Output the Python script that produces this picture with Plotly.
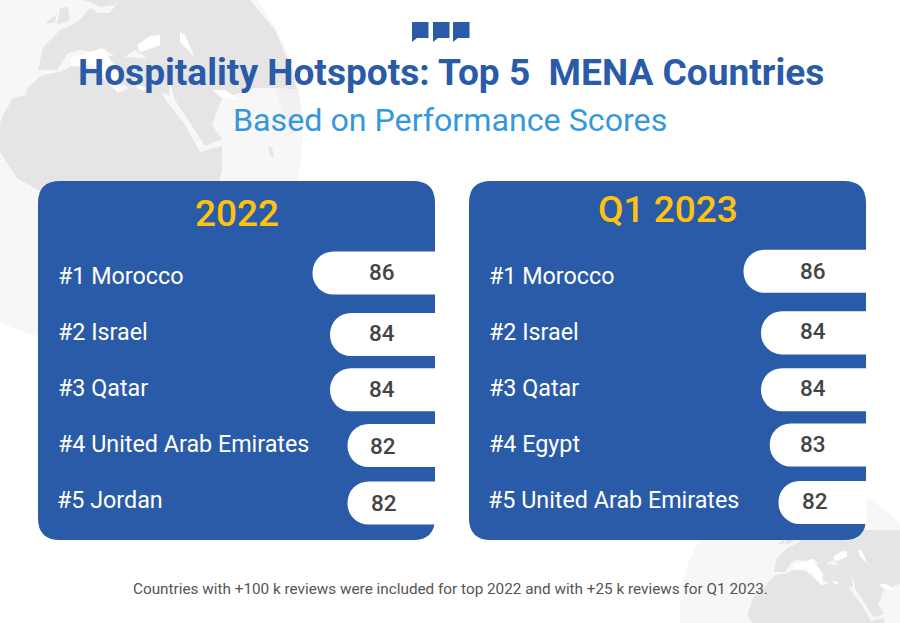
import plotly.express as px

def getDataSource():
    return{
        "period":["2022"]*5+["Q1 2023"]*5,
        "country":["#1 Morocco","#2 Israel","#3 Qatar","#4 United Arab Emirates","#5 Jordan",
                   "#1 Morocco","#2 Israel","#3 Qatar","#4 Egypt","#5 United Arab Emirates"],
        "score":[86,84,84,82,82,86,84,84,83,82],
        "row":[1,2.07,3.03,4,5,0.97,2.04,3.03,3.99,4.99]
    }

def paperX(x):
    return x/900

def paperY(y):
    return 1-y/623

def pathOf(points,x0=0,y0=0,scale=1):
    parts=[]
    for x,y in points:
        parts.append(str(round(paperX(x0+x*scale),5))+","+str(round(paperY(y0+y*scale),5)))
    return "M"+" L".join(parts)+" Z"

def addShape(fig,path,colour):
    fig.add_shape(type="path",path=path,xref="paper",yref="paper",fillcolor=colour,line_width=0,layer="below")

def addGlobe(fig,x0,y0,scale):
    cx=x0+92*scale
    cy=y0+132*scale
    r=211*scale
    fig.add_shape(type="circle",xref="paper",yref="paper",x0=paperX(cx-r),x1=paperX(cx+r),y0=paperY(cy+r),y1=paperY(cy-r),
                  fillcolor="#f7f7f7",line_width=0,layer="below")
    africa=[(-6,140),(3,115),(13,98),(25,95),(28,87),(42,75),(60,72),(72,66),(90,68),(105,80),(118,93),(135,85),(155,80),
            (167,102),(185,125),(200,152),(222,146),(222,170),(217,190),(38,190),(17,178),(0,152)]
    eurasia=[(117,0),(117,3),(110,13),(98,13),(90,8),(80,20),(72,25),(60,30),(43,47),(38,70),(57,70),(68,53),(80,50),(95,52),
             (103,48),(120,60),(135,50),(150,60),(165,65),(175,100),(205,146),(222,139),(212,125),(222,98),(232,95),(255,88),
             (278,88),(297,90),(292,70),(275,30),(250,0)]
    levant=[(100,55),(165,60),(170,95),(160,92),(135,90),(100,75)]
    north=[(82,0),(117,0),(115,5),(100,7),(92,3)]
    ireland=[(47,22),(57,14),(55,22),(47,24)]
    britain=[(60,8),(68,7),(70,20),(57,25)]
    india=[(275,88),(298,90),(303,125),(291,135),(282,110)]
    lanka=[(268,146),(272,148),(274,157),(270,156)]
    for land in [africa,eurasia,levant,north,ireland,britain,lanka]:
        addShape(fig,pathOf(land,x0,y0,scale),"#e5e5e5")
    addShape(fig,pathOf(india,x0,y0,scale),"#f1f1f1")
    wedge=[(102,48),(120,73),(118,93),(108,80),(92,64),(72,66),(70,58),(82,55)]
    blackSea=[(137,45),(150,36),(160,35),(160,45),(147,50),(140,52)]
    caspian=[(180,32),(185,35),(195,58),(188,50),(180,42)]
    gulf=[(213,90),(225,90),(240,100),(232,100),(220,97)]
    aegean=[(136,84),(146,88),(144,91),(137,88)]
    for sea in [wedge,blackSea,caspian,gulf,aegean]:
        addShape(fig,pathOf(sea,x0,y0,scale),"#ffffff")

def addPanel(fig,left,right):
    top=181
    bottom=540
    r=22
    path="M%f,%f L%f,%f Q%f,%f %f,%f L%f,%f Q%f,%f %f,%f L%f,%f Q%f,%f %f,%f L%f,%f Q%f,%f %f,%f Z"%(
        paperX(left+r),paperY(top),paperX(right-r),paperY(top),paperX(right),paperY(top),paperX(right),paperY(top+r),
        paperX(right),paperY(bottom-r),paperX(right),paperY(bottom),paperX(right-r),paperY(bottom),
        paperX(left+r),paperY(bottom),paperX(left),paperY(bottom),paperX(left),paperY(bottom-r),
        paperX(left),paperY(top+r),paperX(left),paperY(top),paperX(left+r),paperY(top))
    addShape(fig,path,"#2a5ba8")

def addText(fig,x,y,text,size,colour,weight=400,anchor="center"):
    fig.add_annotation(x=paperX(x),y=paperY(y),xref="paper",yref="paper",text=text,showarrow=False,xanchor=anchor,yanchor="middle",
                       font=dict(family="Roboto",size=size,color=colour,weight=weight))

dataSource=getDataSource()

fig=px.bar(dataSource,x="score",y="row",facet_col="period",orientation="h",color_discrete_sequence=["#ffffff"])
fig.layout.annotations=[]
fig.update_traces(width=0.75,marker_cornerradius=21,marker_line_width=0,hoverinfo="skip",hovertemplate=None)
fig.update_xaxes(range=[72+397/8.75,72],visible=False)
fig.update_yaxes(range=[5.643,-0.6],visible=False,domain=[paperY(540),paperY(181)])
fig.update_layout(xaxis_domain=[paperX(38),paperX(435)],xaxis2_domain=[paperX(469),paperX(866)],
                  width=900,height=623,margin=dict(l=0,r=0,t=0,b=0),showlegend=False,
                  paper_bgcolor="#ffffff",plot_bgcolor="rgba(0,0,0,0)")

addGlobe(fig,0,0,1)
addGlobe(fig,751,530,0.6)
addPanel(fig,38,435)
addPanel(fig,469,866)

# three little speech bubbles
for x in [412,433,453]:
    addShape(fig,pathOf([(x,22),(x+16.5,22),(x+16.5,38),(x+5,38),(x,42)]),"#2a5ba8")

addText(fig,451,72,"Hospitality Hotspots: Top 5\u00a0 MENA Countries",37.1,"#2a5ba8",700)
addText(fig,450,120,"Based on Performance Scores",32.2,"#3498db")
addText(fig,237,213,"2022",37,"#ffc20e",500)
addText(fig,668,210,"Q1 2023",37,"#ffc20e",500)
addText(fig,450.5,589,"Countries with +100 k reviews were included for top 2022 and with +25 k reviews for Q1 2023.",15.3,"#555555")

labelX=[56,56,56,56,55,487,487,487,487,486]
labelY=[276,332,388,444,500,276,332,388,444,500]
scoreX=[382,382,382,383,384,813,813,813,813,815]
scoreY=[272,333,389,446,503,271,331,388,444,501]
for i in range(10):
    addText(fig,labelX[i],labelY[i],dataSource["country"][i],23.3,"#ffffff",400,"left")
    addText(fig,scoreX[i],scoreY[i],str(dataSource["score"][i]),22.5,"#444444",500)

fig.write_html("out.html",config={"displayModeBar":False},post_script="document.body.style.margin='0';")
